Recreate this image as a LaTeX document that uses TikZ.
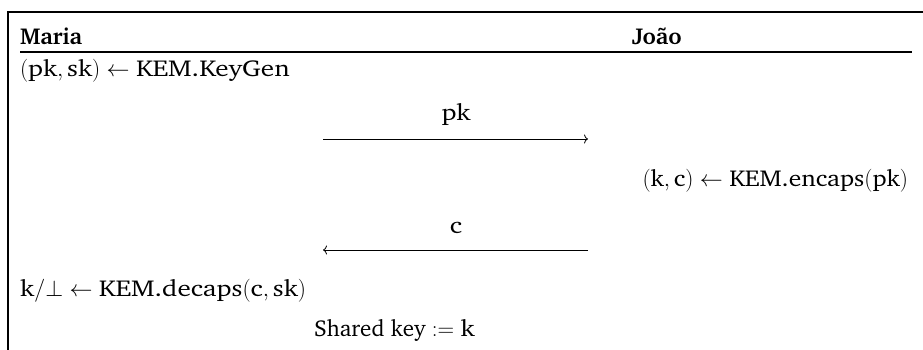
\RequirePackage{fix-cm}
\documentclass[tikz,border=0pt]{standalone}
\usepackage[T1]{fontenc}
\usepackage{charter}
\usepackage{graphicx}
\usetikzlibrary{arrows.meta}
\newcommand{\vv}[1]{\scalebox{1.18}[1.0]{\textrm{#1}}}
\newcommand{\vn}[1]{\scalebox{1.11}[1.0]{\textrm{#1}}}
\begin{document}
\begin{tikzpicture}[x=1pt,y=-1pt,
  every node/.style={inner sep=0pt, outer sep=0pt, font=\fontsize{23}{27}\selectfont},
  party/.style={anchor=base west, font=\fontsize{23}{27}\selectfont\bfseries},
  stepl/.style={anchor=base west},
  stepr/.style={anchor=base east},
  msglabel/.style={anchor=base},
  frameline/.style={line width=1.3pt},
  headrule/.style={line width=1.1pt},
  msg/.style={line width=0.8pt, -{To[length=4pt,width=9pt]}}]
\useasboundingbox (0,0) rectangle (923,350);
\coordinate (tl) at (8,12);
\coordinate (tr) at (923,12);
\coordinate (bl) at (8,350);
\draw[frameline] (tr) -- (tl) -- (bl);
\node[party] (maria) at (20,45) {Maria};
\node[party] (joao) at (632,45) {Jo\~ao};
\coordinate (rl) at (20,52);
\coordinate (rr) at (912,52);
\draw[headrule] (rl) -- (rr);
\node[stepl] (keygen) at (20,77) {$(\vv{pk},\vv{sk}) \gets \vv{KEM.KeyGen}$};
\coordinate (a1s) at (323,139);
\coordinate (a1e) at (588,139);
\draw[msg] (a1s) -- (a1e);
\node[msglabel] (pk) at (456,121) {$\vv{pk}$};
\node[stepr] (encaps) at (908,186) {$(\vn{k},\vn{c}) \gets \vn{KEM.encaps}(\vn{pk})$};
\coordinate (a2s) at (588,250);
\coordinate (a2e) at (323,250);
\draw[msg] (a2s) -- (a2e);
\node[msglabel] (c) at (456,233) {$\vv{c}$};
\node[stepl] (decaps) at (20,296) {$\vv{k}/\bot \gets \vv{KEM.decaps}(\vv{c},\vv{sk})$};
\node[stepl] (shared) at (314,336) {Shared key $:= \vv{k}$};
\end{tikzpicture}
\end{document}
